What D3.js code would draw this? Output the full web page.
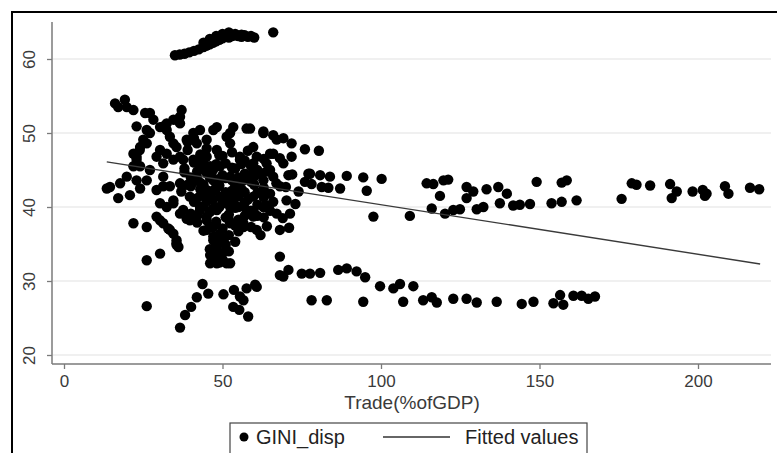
<!DOCTYPE html>
<html><head><meta charset="utf-8">
<script src="https://cdn.jsdelivr.net/npm/d3@7"></script>
<style>body{margin:0;background:#fff} svg{display:block} text{font-family:Arial,"Liberation Sans",Helvetica,sans-serif}</style>
</head><body><svg id="c" width="777" height="453"></svg>
<script>
// Trade (% of GDP) values of each observation
const trade = [
35,36.5,38,39.5,41,42.5,44,45,46,47,48,49,50,51,52,53,54,55,56,57,58,59,60,44,46,48,50,52,54,56,66,
16.1,19.2,17.1,21.9,19.8,27.1,25.6,28.2,37.1,36.6,30.3,32.4,34.5,35.5,26.1,27.1,25,23.9,22.9,21.9,19.8,17.7,14.5,13.5,17.1,20.8,24,22.9,24,21.9,26.1,26.1,27.1,29.2,32.4,36.6,40.8,45,49.2,55.5,59.7,46.1,34.5,38.7,45,51.3,42.9,48.2,53.4,58.7,31.3,33.4,34.5,30.3,32.4,
62.9,66,69.2,71.8,76,80.4,66,68.1,71.8,59.7,63.9,65,77.6,58.7,
22.9,31.3,36.6,40.8,47.1,52.4,57.6,62.9,67.1,24,35.5,41.9,48.2,52.4,55.5,60.8,65,69.2,22.9,31.3,37.6,46.1,31.3,36.6,41.9,47.1,52.4,56.6,62.9,68.1,29.2,34.5,39.7,43.9,49.2,54.5,59.7,65,70.2,37.6,42.9,48.2,52.4,57.6,62.9,67.1,21.9,26.1,30.3,33.4,35.5,39.7,45,47.1,47.1,47.1,48.2,52.4,56.6,60.8,68.1,26.1,30.3,33.4,
29.2,30.3,31.3,32.9,34.5,35.5,36.1,34.5,36.6,38.7,42.9,45,46.1,47.1,48.2,49.2,52.4,53.4,56.6,59.7,32.4,
26.1,36.6,38.2,40.1,41.9,43.7,45.5,50.3,53.6,53.4,55.3,58.1,56.6,57.6,60.8,46.1,51.3,46.1,48.2,35.5,50.3,68.1,
70.8,77.1,80.8,83.9,89.2,94.4,100.2,76,78.1,81.3,83.4,87.1,95.5,97.6,109.1,71.3,68.1,114.4,116.5,119.7,121.2,118.6,116,120.2,122.8,124.9,127,129.1,127,130.2,132.3,133.3,137,139.7,137.5,141.7,147,149.1,
69.2,70.8,75,77.6,80.8,86.5,89.2,92.3,95,99.7,103.9,106,110.2,78.1,82.9,94.4,107,113.3,116,117.6,122.8,127,130.2,136.5,144.4,148.1,60.3,55.5,
157,158.6,143.8,153.8,157,161.7,175.9,179.1,180.6,184.9,191.2,193.3,191.7,198.3,201.5,202.2,202.7,208.5,209.6,216.4,219.3,
154.4,156.5,157.5,160.7,163.3,165.4,167.5,
42,44,45,46,47,48,49,50,51,52,53,54,55,56,57,58,59,60,61,62,63,64,66,67,44,46,48,50,52,54,49,51,50,49,55,57,59,61,63,65,70,72,74,73,69,71,62,64,40,41,43,45,50,54,58,61,38,39,43,48,53,56,60,44,42,40,55,47,51,63,66,
41,43,45,47,49,51,53,55,57,59,61,63,42,44,46,48,50,52,54,56,58,60,62,64,41,43,45,47,49,51,53,55,57,59,43,45,47,49,51,53,55,57,46,48,50,52,54,48,50,52,37,39,41,43,38,40,42,44,39,41
];
// GINI_disp values, same order
const gini = [
60.5,60.6,60.7,60.9,61.1,61.3,61.6,61.8,62,62.2,62.4,62.6,62.8,63,62.9,63.1,63.2,63.1,63,63.2,63,63.1,62.9,62.2,62.7,63.1,63.4,63.6,63.4,63.3,63.6,
54,54.5,53.5,53.1,53.5,52.7,52.7,51.8,53.1,52.2,50.8,51.3,51.8,51.8,50.4,50,49.1,47.7,46.8,45.5,44.1,43.2,42.7,42.5,41.2,41.6,42.5,43.6,45.5,47.2,48.6,43.6,45,46.8,47.2,46.8,46.4,46.8,45.5,46.8,48.1,45,48.6,49.1,49.1,49.5,50.4,50.8,50.8,50.6,44.1,42.8,46.4,47.7,50.4,
50.2,49.7,49.3,48.6,47.8,47.6,47.2,46.6,46.8,45.9,45.9,45,44.5,44.3,
50.9,50.9,51.3,50,50.4,50,50.6,50,49.1,48.1,48.1,48.6,47.7,48.6,46.4,46.8,47.2,45.9,46.4,45.9,46.4,45.5,42.8,43.2,44.1,43.6,44.1,43.6,43.6,42.8,42.3,40.9,41.4,41.8,41.4,41.8,41.4,41.8,40.9,39.6,40,39.6,40,39.6,40,39.1,37.8,37.3,38.2,36.9,35.1,38.2,38.7,37.3,35.5,33.7,32.4,37.8,37.3,36.9,33.3,32.8,33.7,49.5,
38.7,40.5,37.8,37.1,36.4,35.5,34.6,40.5,39.1,38.4,39.6,38.2,37.3,36,34.6,33.5,32.4,40.9,37.8,38.7,40,
26.6,23.7,25.4,26.5,27.8,29.6,28.3,28.2,28.8,26.5,26.1,25.2,27.4,29,29.2,32.4,32.4,33.5,33.5,34.9,35.5,30.8,
44.3,44.5,44.3,44.1,44.2,44,43.8,43.4,43.1,42.7,42.6,42.5,42.2,38.7,38.8,39.1,36.9,43.2,43.1,43.6,43.7,41.5,39.8,39.1,39.6,39.7,42.7,42.1,41.2,39.7,40,42.4,42.7,41.8,40.5,40.2,40.4,43.4,
30.6,31.5,31,31,31.1,31.5,31.7,31.3,30.5,29.3,29,29.6,29.3,27.4,27.4,27.2,27.2,27.4,27.8,27.1,27.6,27.6,27.1,27.2,26.9,27.2,29.5,27.9,
43.3,43.6,40.3,40.5,40.7,40.9,41.1,43.2,43,42.9,43.1,42.1,41.2,42.1,42.3,41.5,41.8,42.8,41.8,42.6,42.4,
27,28.1,26.8,28,28,27.6,27.9,
44.8,43,42.3,44,41,42.5,43.8,40.5,42,39,41.3,43,40,42.4,44.5,41,39.5,43,40.3,42,38.6,44.8,40.7,43.2,40.1,39.3,38,37.1,36.2,35.3,36.3,34.9,33.8,32.5,38.3,38.8,37.3,38.8,41.3,39.5,42.7,44.4,42.1,40.4,38.5,37.2,36.2,37.4,42.8,40.7,45.6,47.9,46.9,45.2,47.6,45,44.7,47.7,43.3,45.8,47.4,45.8,44.1,36.8,37.9,39.1,44,42.2,43.9,46.5,44.1,
43.5,41.5,44.6,39.8,42.9,41.1,45.3,42.7,40.6,43.4,41.9,42.6,38.8,45.1,41.7,43.2,44.3,40.9,39.9,37.9,44.2,39.2,44.6,40.2,46.0,46.5,40.8,43.9,47.0,38.6,42.2,41.4,46.3,45.5,47.1,36.9,45.0,40.0,45.9,43.6,36.7,42.0,34.3,35.9,35.2,34.0,37.5,33.0,32.9,38.3,42.1,43.0,43.9,42.4,45.2,44.0,41.2,46.3,48.8,49.3
];
// Fitted values: end points
const fitTrade = [13.5, 219.6];
const fitGini = [46.1, 32.3];
const xTicks = [0, 50, 100, 150, 200];
const yTicks = [20, 30, 40, 50, 60];
const xTitle = "Trade(%ofGDP)";
const legendLabels = ["GINI_disp", "Fitted values"];

const svg = d3.select("#c");
const x = d3.scaleLinear().domain([0, 200]).range([64, 698]);
const y = d3.scaleLinear().domain([20, 60]).range([355, 59]);
const axisCol = "#7a7a7a", textCol = "#3a3a3a";

svg.append("rect").attr("width",777).attr("height",453).attr("fill","#fff");
svg.append("rect").attr("x",12).attr("y",12).attr("width",800).attr("height",500)
  .attr("fill","none").attr("stroke","#000").attr("stroke-width",2);

// grid
svg.append("g").selectAll("line").data(yTicks).join("line")
  .attr("x1",53).attr("x2",771).attr("y1",d=>y(d)).attr("y2",d=>y(d))
  .attr("stroke","#ebebeb").attr("stroke-width",1.3);

// points
const pts = trade.map((t,i)=>({t, g: gini[i]}));
svg.append("g").selectAll("circle").data(pts).join("circle")
  .attr("cx",d=>x(d.t)).attr("cy",d=>y(d.g)).attr("r",5.2).attr("fill","#000");

// fitted line
const line = d3.line().x(d=>x(d[0])).y(d=>y(d[1]));
svg.append("path").datum(fitTrade.map((t,i)=>[t,fitGini[i]])).attr("d",line)
  .attr("fill","none").attr("stroke","#3a3a3a").attr("stroke-width",1.4);

// x axis
const gx = svg.append("g").attr("transform","translate(0,364)")
  .call(d3.axisBottom(x).tickValues(xTicks).tickSize(5).tickPadding(6).tickFormat(d3.format("d")));
gx.select(".domain").remove();
gx.selectAll("line").attr("stroke",axisCol).attr("stroke-width",1.3);
gx.selectAll("text").attr("fill",textCol).style("font-size","17px").style("font-family","Arial, 'Liberation Sans', sans-serif");
svg.append("line").attr("x1",52).attr("x2",771).attr("y1",364).attr("y2",364).attr("stroke",axisCol).attr("stroke-width",1.5);

// y axis
const gy = svg.append("g").attr("transform","translate(52,0)")
  .call(d3.axisLeft(y).tickValues(yTicks).tickSize(5).tickFormat(d3.format("d")));
gy.select(".domain").remove();
gy.selectAll("line").attr("stroke",axisCol).attr("stroke-width",1.3);
gy.selectAll("text").attr("fill",textCol).style("font-size","17px").style("font-family","Arial, 'Liberation Sans', sans-serif")
  .attr("transform","rotate(-90)").attr("x",0).attr("y",-17).attr("dy",0).style("text-anchor","middle");
svg.append("line").attr("x1",52).attr("x2",52).attr("y1",22).attr("y2",364).attr("stroke",axisCol).attr("stroke-width",1.5);

// x title
svg.append("text").attr("x",412).attr("y",409).attr("text-anchor","middle")
  .attr("fill",textCol).style("font-size","19px").text(xTitle);

// legend
const lg = svg.append("g");
lg.append("rect").attr("x",230).attr("y",423).attr("width",357).attr("height",40)
  .attr("fill","#fff").attr("stroke","#444").attr("stroke-width",1.2);
lg.append("circle").attr("cx",244).attr("cy",437).attr("r",4.5).attr("fill","#000");
lg.append("text").attr("x",256).attr("y",444).attr("fill","#222").style("font-size","20px").text(legendLabels[0]);
lg.append("line").attr("x1",383).attr("x2",450).attr("y1",437).attr("y2",437).attr("stroke","#333").attr("stroke-width",1.4);
lg.append("text").attr("x",465).attr("y",444).attr("fill","#222").style("font-size","20px").text(legendLabels[1]);
</script></body></html>
